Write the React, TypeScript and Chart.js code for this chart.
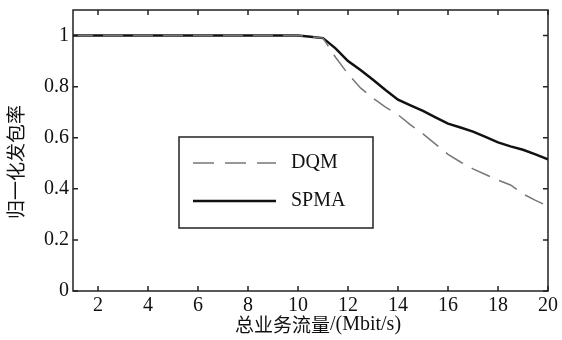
import React, { useEffect, useRef } from "react";
import { Chart, registerables } from "chart.js";

Chart.register(...registerables);

const trafficMbps = [1, 10, 10.5, 11, 11.5, 12, 12.5, 13, 13.5, 14, 14.5, 15, 15.5, 16, 16.5, 17, 17.5, 18, 18.5, 19, 19.5, 20];
const spmaRate = [1, 1, 0.995, 0.99, 0.95, 0.9, 0.865, 0.827, 0.787, 0.749, 0.727, 0.705, 0.68, 0.655, 0.64, 0.624, 0.603, 0.582, 0.566, 0.553, 0.535, 0.515];
const dqmRate = [1, 1, 0.995, 0.99, 0.915, 0.85, 0.795, 0.755, 0.72, 0.69, 0.65, 0.615, 0.575, 0.535, 0.505, 0.478, 0.456, 0.434, 0.415, 0.38, 0.355, 0.332];
const xTickValues = [2, 4, 6, 8, 10, 12, 14, 16, 18, 20];
const xTickLabels = ["2", "4", "6", "8", "10", "12", "14", "16", "18", "20"];
const yTickValues = [0, 0.2, 0.4, 0.6, 0.8, 1];
const yTickLabels = ["0", "0.2", "0.4", "0.6", "0.8", "1"];
const legendLabels = ["DQM", "SPMA"];
const xTitleCjk = "总业务流量";
const xTitleLatin = "/(Mbit/s)";
const yTitle = "归一化发包率";

const SERIF = "Liberation Serif, DejaVu Serif, serif";
const CJK = "Noto Sans CJK SC, sans-serif";

const framePlugin = {
  id: "frame",
  afterDraw(chart: any) {
    const { ctx, chartArea } = chart;
    const { left, right, top, bottom } = chartArea;
    const xs = chart.scales.x;
    const ys = chart.scales.y;
    ctx.save();
    ctx.strokeStyle = "#222";
    ctx.lineWidth = 1.5;
    ctx.strokeRect(left, top, right - left, bottom - top);
    const tl = 5;
    ctx.beginPath();
    xTickValues.forEach((v) => {
      const px = xs.getPixelForValue(v);
      ctx.moveTo(px, bottom);
      ctx.lineTo(px, bottom - tl);
      ctx.moveTo(px, top);
      ctx.lineTo(px, top + tl);
    });
    yTickValues.forEach((v) => {
      const py = ys.getPixelForValue(v);
      ctx.moveTo(left, py);
      ctx.lineTo(left + tl, py);
      ctx.moveTo(right, py);
      ctx.lineTo(right - tl, py);
    });
    ctx.stroke();

    // tick labels
    ctx.fillStyle = "#111";
    ctx.font = `20px ${SERIF}`;
    ctx.textBaseline = "middle";
    ctx.textAlign = "center";
    xTickValues.forEach((v, i) => {
      ctx.fillText(xTickLabels[i], xs.getPixelForValue(v), bottom + 15);
    });
    ctx.textAlign = "right";
    yTickValues.forEach((v, i) => {
      ctx.fillText(yTickLabels[i], left - 4, ys.getPixelForValue(v));
    });

    // legend
    const lx = 179, ly = 137, lw = 194, lh = 91;
    ctx.lineWidth = 1.5;
    ctx.strokeStyle = "#222";
    ctx.strokeRect(lx, ly, lw, lh);
    const rows = [163, 201];
    ctx.beginPath();
    ctx.strokeStyle = "#777";
    ctx.lineWidth = 1.5;
    ctx.setLineDash([21, 11]);
    ctx.moveTo(193, rows[0]);
    ctx.lineTo(276, rows[0]);
    ctx.stroke();
    ctx.setLineDash([]);
    ctx.beginPath();
    ctx.strokeStyle = "#111";
    ctx.lineWidth = 2.5;
    ctx.moveTo(193, rows[1]);
    ctx.lineTo(276, rows[1]);
    ctx.stroke();
    ctx.fillStyle = "#111";
    ctx.font = `20px ${SERIF}`;
    ctx.textAlign = "left";
    ctx.textBaseline = "middle";
    ctx.fillText(legendLabels[0], 291, rows[0]);
    ctx.fillText(legendLabels[1], 291, rows[1]);

    // x title: CJK part + Latin part
    ctx.textAlign = "left";
    ctx.font = `19px ${CJK}`;
    const wC = ctx.measureText(xTitleCjk).width;
    ctx.font = `20px ${SERIF}`;
    const wL = ctx.measureText(xTitleLatin).width;
    const startX = 318 - (wC + wL) / 2;
    ctx.font = `19px ${CJK}`;
    ctx.fillText(xTitleCjk, startX, 325);
    ctx.font = `20px ${SERIF}`;
    ctx.fillText(xTitleLatin, startX + wC, 325);

    // y title
    ctx.font = `19px ${CJK}`;
    ctx.textAlign = "center";
    ctx.save();
    ctx.translate(16, 162);
    ctx.rotate(-Math.PI / 2);
    ctx.fillText(yTitle, 0, 0);
    ctx.restore();
    ctx.restore();
  },
};

export default function App() {
  const ref = useRef<HTMLCanvasElement>(null);
  useEffect(() => {
    if (!ref.current) return;
    const chart = new Chart(ref.current, {
      type: "line",
      data: {
        datasets: [
          {
            label: legendLabels[0],
            data: trafficMbps.map((x, i) => ({ x, y: dqmRate[i] })),
            borderColor: "#777",
            borderWidth: 1.5,
            borderDash: [20, 10],
            pointRadius: 0,
            tension: 0,
          },
          {
            label: legendLabels[1],
            data: trafficMbps.map((x, i) => ({ x, y: spmaRate[i] })),
            borderColor: "#111",
            borderWidth: 2.5,
            pointRadius: 0,
            tension: 0,
          },
        ],
      },
      options: {
        animation: false,
        responsive: false,
        layout: { padding: { top: 10, right: 14, left: 0, bottom: 0 } },
        plugins: { legend: { display: false }, tooltip: { enabled: false } },
        scales: {
          x: {
            type: "linear",
            min: 1,
            max: 20,
            afterBuildTicks: (s: any) => {
              s.ticks = xTickValues.map((v) => ({ value: v }));
            },
            afterFit: (s: any) => {
              s.height = 49;
            },
            grid: { display: false, drawTicks: false },
            border: { display: false },
            ticks: { display: false },
          },
          y: {
            type: "linear",
            min: 0,
            max: 1.1,
            afterBuildTicks: (s: any) => {
              s.ticks = yTickValues.map((v) => ({ value: v }));
            },
            afterFit: (s: any) => {
              s.width = 73;
            },
            grid: { display: false, drawTicks: false },
            border: { display: false },
            ticks: { display: false },
          },
        },
      },
      plugins: [framePlugin],
    });
    return () => chart.destroy();
  }, []);
  return (
    <div style={{ position: "absolute", left: 0, top: 0, width: 562, height: 340, background: "#fff" }}>
      <canvas ref={ref} width={562} height={340} />
    </div>
  );
}
